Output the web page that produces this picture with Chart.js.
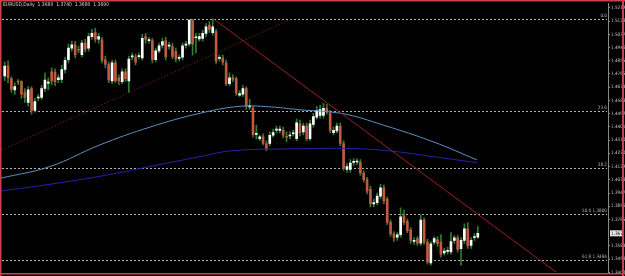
<!DOCTYPE html>
<html><head><meta charset="utf-8">
<script src="https://cdn.jsdelivr.net/npm/chart.js@4.4.0/dist/chart.umd.min.js"></script>
<style>html,body{margin:0;padding:0;background:#000;}#wrap{width:625px;height:276px;position:relative;overflow:hidden;}</style>
</head><body><div id="wrap"><canvas id="c" width="625" height="276"></canvas></div>
<script>
const titleText = "EURUSD,Daily  1.3680  1.3740  1.3680  1.3690";

const open  = [1.4751,1.4821,1.4733,1.4656,1.4716,1.4712,1.4638,1.4570,1.4665,1.4514,1.4600,1.4604,1.4665,1.4702,1.4780,1.4778,1.4726,1.4728,1.4796,1.4863,
1.4943,1.4965,1.4935,1.4897,1.4977,1.4943,1.5022,1.5049,1.5004,1.4999,1.4863,1.4830,1.4717,1.4841,1.4739,1.4712,1.4780,1.4717,1.4883,1.4882,
1.4884,1.4875,1.5022,1.4994,1.4995,1.4863,1.4924,1.4963,1.4995,1.4956,1.4954,1.4920,1.4872,1.4880,1.4963,1.4972,1.5135,1.5014,1.5006,1.5010,
1.5044,1.5101,1.5049,1.5056,1.4872,1.4875,1.4841,1.4699,1.4739,1.4733,1.4619,1.4626,1.4665,1.4539,1.4529,1.4350,1.4321,1.4333,1.4287,1.4287,
1.4344,1.4379,1.4378,1.4378,1.4336,1.4339,1.4354,1.4321,1.4423,1.4367,1.4407,1.4321,1.4419,1.4468,1.4480,1.4480,1.4529,1.4497,1.4362,1.4373,
1.4407,1.4287,1.4109,1.4109,1.4157,1.4160,1.4159,1.4084,1.4039,1.3973,1.3872,1.3881,1.3926,1.3982,1.3906,1.3745,1.3666,1.3643,1.3660,1.3790,
1.3752,1.3694,1.3614,1.3633,1.3603,1.3761,1.3609,1.3467,1.3609,1.3626,1.3609,1.3535,1.3546,1.3542,1.3621,1.3639,1.3565,1.3621,1.3700,1.3587,
1.3641,1.3643];
const high  = [1.4848,1.4855,1.4746,1.4705,1.4726,1.4719,1.4665,1.4678,1.4678,1.4597,1.4624,1.4685,1.4773,1.4739,1.4807,1.4800,1.4760,1.4827,1.4882,1.4970,
1.4990,1.4990,1.4956,1.4997,1.5004,1.5044,1.5072,1.5078,1.5044,1.5017,1.4888,1.4848,1.4861,1.4861,1.4760,1.4800,1.4800,1.4888,1.4909,1.4902,
1.4909,1.5038,1.5044,1.5017,1.5010,1.4943,1.4977,1.5010,1.5017,1.4983,1.4977,1.4943,1.4895,1.4977,1.4990,1.5138,1.5140,1.5044,1.5044,1.5065,
1.5112,1.5126,1.5144,1.5072,1.4895,1.4895,1.4861,1.4773,1.4760,1.4746,1.4651,1.4685,1.4678,1.4590,1.4543,1.4414,1.4346,1.4353,1.4306,1.4367,
1.4387,1.4407,1.4407,1.4400,1.4367,1.4367,1.4380,1.4455,1.4448,1.4428,1.4428,1.4448,1.4495,1.4543,1.4550,1.4563,1.4556,1.4516,1.4400,1.4428,
1.4428,1.4306,1.4150,1.4177,1.4184,1.4184,1.4177,1.4102,1.4055,1.3994,1.3906,1.3946,1.4007,1.4001,1.3919,1.3763,1.3682,1.3675,1.3845,1.3831,
1.3770,1.3709,1.3641,1.3648,1.3797,1.3777,1.3628,1.3614,1.3648,1.3648,1.3662,1.3567,1.3574,1.3675,1.3655,1.3655,1.3641,1.3736,1.3743,1.3641,
1.3668,1.3716];
const low   = [1.4719,1.4705,1.4638,1.4624,1.4692,1.4597,1.4570,1.4543,1.4489,1.4502,1.4584,1.4590,1.4644,1.4658,1.4692,1.4685,1.4705,1.4705,1.4773,1.4841,
1.4922,1.4875,1.4909,1.4882,1.4916,1.4922,1.5004,1.4983,1.4977,1.4841,1.4807,1.4705,1.4699,1.4705,1.4692,1.4699,1.4712,1.4638,1.4861,1.4827,
1.4868,1.4861,1.4977,1.4977,1.4841,1.4848,1.4909,1.4943,1.4861,1.4936,1.4868,1.4848,1.4855,1.4861,1.4943,1.4956,1.4895,1.4909,1.4990,1.4990,
1.5024,1.5051,1.5031,1.4834,1.4855,1.4827,1.4685,1.4685,1.4712,1.4617,1.4611,1.4611,1.4522,1.4522,1.4333,1.4319,1.4306,1.4278,1.4238,1.4272,
1.4333,1.4360,1.4360,1.4326,1.4299,1.4319,1.4339,1.4306,1.4339,1.4346,1.4306,1.4306,1.4400,1.4455,1.4462,1.4462,1.4489,1.4360,1.4346,1.4360,
1.4272,1.4102,1.4089,1.4089,1.4136,1.4143,1.4068,1.4021,1.3940,1.3851,1.3851,1.3865,1.3906,1.3872,1.3730,1.3648,1.3614,1.3621,1.3641,1.3730,
1.3675,1.3601,1.3594,1.3587,1.3587,1.3594,1.3458,1.3451,1.3594,1.3580,1.3506,1.3519,1.3526,1.3526,1.3601,1.3540,1.3451,1.3601,1.3567,1.3567,
1.3621,1.3635];
const close = [1.4819,1.4739,1.4660,1.4678,1.4709,1.4626,1.4604,1.4656,1.4514,1.4575,1.4607,1.4665,1.4724,1.4709,1.4717,1.4712,1.4739,1.4796,1.4859,1.4943,
1.4965,1.4897,1.4928,1.4977,1.4936,1.5022,1.5044,1.5004,1.5022,1.4859,1.4830,1.4724,1.4841,1.4717,1.4717,1.4780,1.4733,1.4868,1.4890,1.4846,
1.4892,1.5010,1.5004,1.5000,1.4863,1.4924,1.4958,1.4988,1.4882,1.4963,1.4886,1.4868,1.4878,1.4958,1.4970,1.5135,1.4972,1.5021,1.5022,1.5044,
1.5090,1.5072,1.5090,1.4853,1.4878,1.4846,1.4699,1.4739,1.4728,1.4633,1.4631,1.4665,1.4543,1.4546,1.4348,1.4356,1.4333,1.4287,1.4253,1.4344,
1.4362,1.4386,1.4387,1.4344,1.4330,1.4346,1.4360,1.4430,1.4360,1.4407,1.4321,1.4423,1.4473,1.4514,1.4520,1.4529,1.4502,1.4378,1.4378,1.4407,
1.4287,1.4118,1.4129,1.4152,1.4163,1.4166,1.4084,1.4039,1.3960,1.3872,1.3881,1.3926,1.3982,1.3892,1.3745,1.3666,1.3639,1.3660,1.3784,1.3745,
1.3689,1.3621,1.3621,1.3603,1.3761,1.3609,1.3474,1.3598,1.3633,1.3599,1.3526,1.3548,1.3553,1.3614,1.3639,1.3560,1.3621,1.3700,1.3587,1.3621,
1.3648,1.3670];

// moving averages read at sampled bars
const maFastBars   = [-1.4, 13.5, 28.4, 43.3, 58.2, 70.1, 79.1, 88.0, 100.8, 112.8, 127.7, 140.7];
const maFastValues = [1.4048,1.4129,1.4278,1.4400,1.4495,1.4543,1.4539,1.4519,1.4492,1.4414,1.4299,1.4175];
const maSlowBars   = [-1.4, 13.5, 28.4, 43.3, 58.2, 68.0, 88.0, 103.0, 114.8, 127.7, 140.7];
const maSlowValues = [1.3960,1.4007,1.4062,1.4129,1.4197,1.4238,1.4251,1.4253,1.4236,1.4197,1.4156];

// trend lines (bar, price)
const downTrendBars = [62.2, 165.0];
const downTrendPrices = [1.5144, 1.3392];
const upTrendBars = [-1.4, 85.6];
const upTrendPrices = [1.4238, 1.5144];

// fibonacci
const fibHigh = 1.5144, fibLow = 1.2457;
const fibLevels = [0, 23.6, 38.2, 50.0, 61.8];
const fibLabels = ["0.0", "23.6", "38.2", "50.0 1.3800", "61.8 1.3484"];

const yTickValues = [1.5219,1.5128,1.5037,1.4946,1.4855,1.4765,1.4674,1.4583,1.4492,1.4401,1.4310,1.4220,1.4129,1.4038,1.3947,1.3856,1.3765,1.3584,1.3493,1.3402];

const BULL = '#ffffff', BEAR = '#c25a3e', WICK = '#2f7d34';
const SMALL_FONT = '"Liberation Sans Narrow", "DejaVu Sans Condensed", "DejaVu Sans", sans-serif';

const decor = {
  id:'decor',
  beforeDraw(chart){
    const c = chart.ctx; c.save(); c.fillStyle = '#000'; c.fillRect(0,0,chart.width,chart.height); c.restore();
  },
  beforeDatasetsDraw(chart){
    const c = chart.ctx, a = chart.chartArea, y = chart.scales.y;
    c.save();
    c.strokeStyle = '#b4b4b4'; c.lineWidth = 1; c.setLineDash([2,2]);
    c.font = '4.6px ' + SMALL_FONT; c.fillStyle = '#b4b4b4'; c.textAlign = 'right'; c.textBaseline = 'bottom';
    fibLevels.forEach((lv, k) => {
      const p = fibHigh - (fibHigh - fibLow) * lv / 100;
      const py = Math.round(y.getPixelForValue(p)) + 0.5;
      c.beginPath(); c.moveTo(a.left + 2, py); c.lineTo(a.right - 1, py); c.stroke();
      c.fillText(fibLabels[k], a.right - 1, py - 1);
    });
    c.restore();
  },
  afterDraw(chart){
    const c = chart.ctx, a = chart.chartArea, y = chart.scales.y;
    c.save();
    c.font = '5px ' + SMALL_FONT; c.fillStyle = '#d8d8d8'; c.textAlign = 'left'; c.textBaseline = 'middle';
    c.fillText(titleText, 3, 4.5);
    const last = close[close.length - 1];
    const py = y.getPixelForValue(last);
    c.fillStyle = '#e8e8e8'; c.fillRect(a.right + 2, py - 3, 13, 6);
    c.fillStyle = '#000'; c.font = '4.6px ' + SMALL_FONT; c.fillText(last.toFixed(4), a.right + 3, py);
    c.fillStyle = '#c8424c';
    c.fillRect(0, 0, chart.width, 1.5);
    c.fillRect(0, 0, 1.5, chart.height);
    c.fillRect(622, 0, 2, chart.height);
    c.fillRect(0, 273, chart.width, 1.5);
    c.restore();
  }
};

const bars = open.map((o,k)=>k);

new Chart(document.getElementById('c'), {
  type: 'bar',
  data: { datasets: [
    { type:'line', data: downTrendBars.map((x,k)=>({x, y: downTrendPrices[k]})), borderColor:'#9a2222', borderWidth:1, pointRadius:0, order:0 },
    { type:'line', data: upTrendBars.map((x,k)=>({x, y: upTrendPrices[k]})), borderColor:'#8e2525', borderWidth:1, borderDash:[1,2], pointRadius:0, order:0 },
    { type:'line', data: maFastBars.map((x,k)=>({x, y: maFastValues[k]})), borderColor:'#5d8fbd', borderWidth:1, pointRadius:0, tension:0.4, order:0 },
    { type:'line', data: maSlowBars.map((x,k)=>({x, y: maSlowValues[k]})), borderColor:'#2424a8', borderWidth:1, pointRadius:0, tension:0.4, order:0 },
    { data: bars.map(k=>({x:k, y:[open[k], close[k]]})), backgroundColor: bars.map(k=> close[k] >= open[k] ? BULL : BEAR),
      barThickness:2, minBarLength:1, grouped:false, order:1 },
    { data: bars.map(k=>({x:k, y:[low[k], high[k]]})), backgroundColor: WICK, barThickness:1, grouped:false, order:2 }
  ]},
  options: {
    responsive:false, animation:false, devicePixelRatio:1,
    layout:{ padding:{ left:0, right:0, top:0, bottom:4 } },
    plugins:{ legend:{display:false}, tooltip:{enabled:false} },
    scales:{
      x:{ type:'linear', min:-1.4, max:179.8, display:false, offset:false },
      y:{ position:'right', min:1.34041, max:1.52477,
          afterBuildTicks: s => { s.ticks = yTickValues.map(v=>({value:v})); },
          afterFit: s => { s.width = 17; },
          ticks:{ autoSkip:false, color:'#c8c8c8', font:{size:4.6, family:SMALL_FONT}, padding:1, callback: v => Number(v).toFixed(4) },
          grid:{ drawOnChartArea:false, color:'#8a8a8a', tickLength:2 },
          border:{ color:'#8a8a8a' } }
    }
  },
  plugins:[decor]
});
</script></body></html>
